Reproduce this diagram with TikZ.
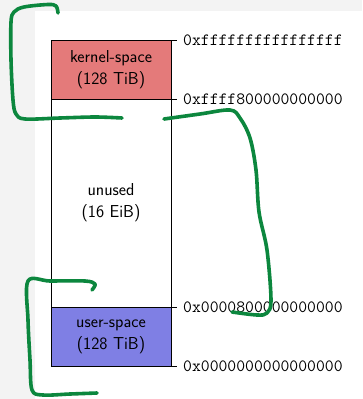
\documentclass[tikz,border=0pt]{standalone}
\usepackage{fontspec}
\definecolor{kernelred}{RGB}{228,122,122}
\definecolor{userblue}{RGB}{127,127,228}
\definecolor{slidegray}{RGB}{243,243,243}
\definecolor{penGreen}{RGB}{12,135,62}
\begin{document}
\begin{tikzpicture}[x=1pt,y=-1pt,
  region/.style={draw=black, line width=0.8pt, inner sep=0pt, outer sep=0pt,
    minimum width=120pt, anchor=north west, align=center,
    font=\sffamily\fontsize{17.3}{22}\selectfont},
  addr/.style={anchor=west, inner sep=0pt, font=\ttfamily\fontsize{17.2}{20}\selectfont},
  tick/.style={line width=0.8pt},
  pen/.style={draw=penGreen, line width=3.6pt, line cap=round, line join=round}]
  % page background
  \fill[slidegray] (0,0) rectangle (362,399);
  \fill[white] (35,11) rectangle (362,399);
  \useasboundingbox (0,0) rectangle (362,399);

  % address-space regions
  \node[region, fill=kernelred, minimum height=59pt] (kernel) at (51,40)
    {kernel-space\\(128 TiB)};
  \node[region, fill=white, minimum height=208pt] (unused) at (51,99)
    {unused\\(16 EiB)};
  \node[region, fill=userblue, minimum height=59pt] (user) at (51,307)
    {user-space\\(128 TiB)};

  % boundary ticks
  \coordinate (t1) at ([xshift=6pt]kernel.north east);
  \coordinate (t2) at ([xshift=6pt]kernel.south east);
  \coordinate (t3) at ([xshift=6pt]user.north east);
  \coordinate (t4) at ([xshift=6pt]user.south east);
  \draw[tick] (kernel.north east) -- (t1);
  \draw[tick] (kernel.south east) -- (t2);
  \draw[tick] (user.north east) -- (t3);
  \draw[tick] (user.south east) -- (t4);

  % addresses
  \node[addr] (a1) at ([xshift=6pt]t1) {0xffffffffffffffff};
  \node[addr] (a2) at ([xshift=6pt]t2) {0xffff800000000000};
  \node[addr] (a3) at ([xshift=6pt]t3) {0x0000800000000000};
  \node[addr] (a4) at ([xshift=6pt]t4) {0x0000000000000000};

  % hand-drawn brackets
  \draw[pen] plot[smooth, tension=0.55] coordinates {
    (58,13) (56,6) (48,4.5) (24,7) (14,12) (11,22) (11,60) (13,100)
    (16,114) (25,119) (60,118) (95,117) (122,118)};
  \draw[pen] plot[smooth, tension=0.55] coordinates {
    (164,119) (200,114) (230,110) (240,118) (250,138) (256,170)
    (259,212) (267,250) (271,300) (267,313) (257,315) (232,312)};
  \draw[pen] plot[smooth, tension=0.55] coordinates {
    (92,290) (95,284) (85,281) (50,281) (28,281) (28,320) (30,360)
    (32,390) (43,395) (70,394) (97,393)};
\end{tikzpicture}
\end{document}
